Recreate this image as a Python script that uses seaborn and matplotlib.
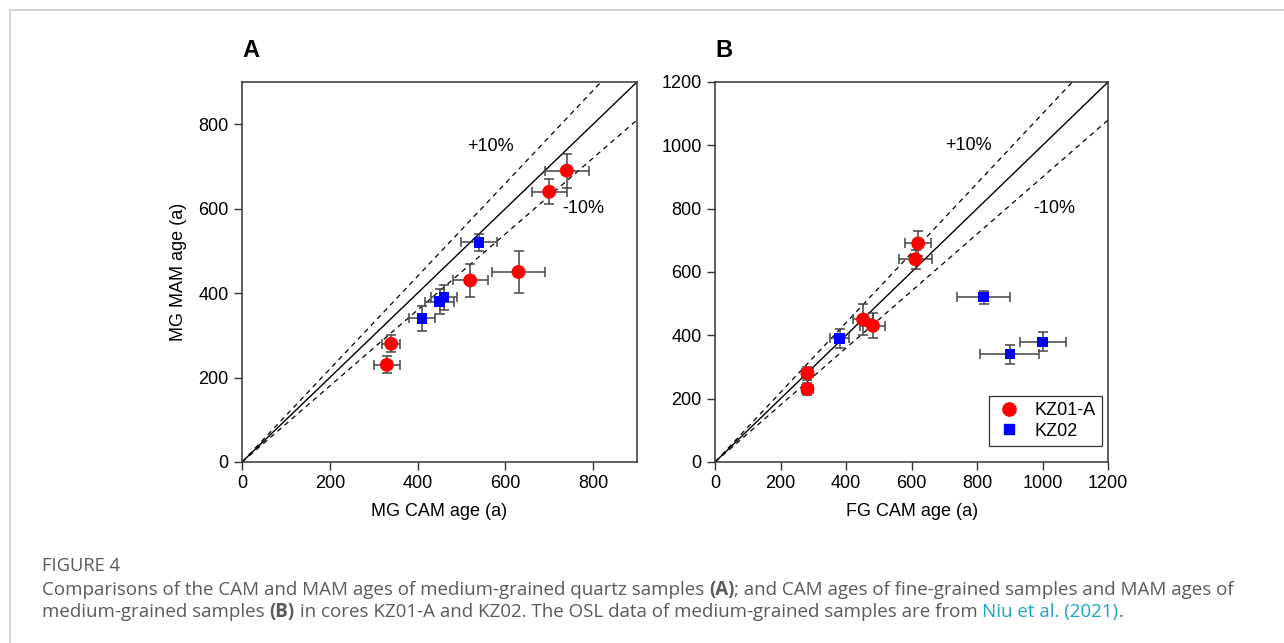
import matplotlib
matplotlib.use("Agg")
import matplotlib.pyplot as plt
import seaborn as sns
import numpy as np
import pandas as pd
from matplotlib.lines import Line2D

# panel A: MG CAM vs MG MAM
a_kz01_x = [740, 700, 630, 520, 340, 330]
a_kz01_xerr = [50, 40, 60, 40, 20, 30]
a_kz01_y = [690, 640, 450, 430, 280, 230]
a_kz01_yerr = [40, 30, 50, 40, 20, 20]
a_kz02_x = [540, 460, 450, 410]
a_kz02_xerr = [40, 30, 32, 30]
a_kz02_y = [520, 390, 380, 340]
a_kz02_yerr = [20, 30, 30, 30]

# panel B: FG CAM vs MG MAM
b_kz01_x = [620, 612, 452, 482, 282, 282]
b_kz01_xerr = [40, 50, 30, 38, 16, 16]
b_kz01_y = [690, 640, 450, 430, 280, 230]
b_kz01_yerr = [40, 30, 50, 40, 20, 18]
b_kz02_x = [380, 820, 900, 1000]
b_kz02_xerr = [30, 80, 90, 70]
b_kz02_y = [390, 520, 340, 380]
b_kz02_yerr = [30, 20, 30, 30]

sns.set_style("ticks")
plt.rcParams['font.family'] = ['Liberation Sans', 'DejaVu Sans']
plt.rcParams['text.color'] = 'black'
plt.rcParams['axes.labelcolor'] = 'black'
plt.rcParams['xtick.color'] = 'black'
plt.rcParams['ytick.color'] = 'black'

fig = plt.figure(figsize=(12.84, 6.43), dpi=100)
axA = fig.add_axes([0.1885, 0.2815, 0.3076, 0.591])
axB = fig.add_axes([0.5569, 0.2815, 0.3061, 0.591])

fs = 13


def make_df(x, y, name):
    return pd.DataFrame({'cam': x, 'mam': y, 'core': name})


def draw_panel(ax, k1x, k1xe, k1y, k1ye, k2x, k2xe, k2y, k2ye, lim):
    for x, xe, y, ye in [(k1x, k1xe, k1y, k1ye), (k2x, k2xe, k2y, k2ye)]:
        ax.errorbar(x, y, xerr=xe, yerr=ye, fmt='none', ecolor='#444444',
                    elinewidth=1.1, capsize=3.5, capthick=1.1, zorder=2)
    df = pd.concat([make_df(k1x, k1y, 'KZ01-A'), make_df(k2x, k2y, 'KZ02')])
    sns.scatterplot(data=df, x='cam', y='mam', hue='core', style='core', size='core',
                    palette={'KZ01-A': '#ff0000', 'KZ02': '#0000ff'},
                    markers={'KZ01-A': 'o', 'KZ02': 's'},
                    sizes={'KZ01-A': 100, 'KZ02': 55},
                    linewidth=0, ax=ax, zorder=3, legend=False)
    xx = np.array([0, lim])
    ax.plot(xx, xx, color='black', lw=1, zorder=1)
    ax.plot(xx, 1.1 * xx, color='black', lw=0.9, ls=(0, (4, 3.5)), zorder=1)
    ax.plot(xx, 0.9 * xx, color='black', lw=0.9, ls=(0, (4, 3.5)), zorder=1)
    ax.set_xlim(0, lim)
    ax.set_ylim(0, lim)
    for s in ax.spines.values():
        s.set_linewidth(1.1)
        s.set_color('#333333')
    ax.tick_params(labelsize=fs, length=6, width=1, color='#333333', direction='out')


draw_panel(axA, a_kz01_x, a_kz01_xerr, a_kz01_y, a_kz01_yerr,
           a_kz02_x, a_kz02_xerr, a_kz02_y, a_kz02_yerr, 900)
axA.set_xticks([0, 200, 400, 600, 800])
axA.set_yticks([0, 200, 400, 600, 800])
axA.set_xlabel('MG CAM age (a)', fontsize=fs, labelpad=8)
axA.set_ylabel('MG MAM age (a)', fontsize=fs, labelpad=8)
axA.text(565, 748, '+10%', fontsize=fs, ha='center', va='center')
axA.text(777, 601, '-10%', fontsize=fs, ha='center', va='center')
axA.text(0.0, 1.053, 'A', transform=axA.transAxes, fontsize=17, fontweight='bold',
         ha='left', va='bottom')

draw_panel(axB, b_kz01_x, b_kz01_xerr, b_kz01_y, b_kz01_yerr,
           b_kz02_x, b_kz02_xerr, b_kz02_y, b_kz02_yerr, 1200)
axB.set_xticks([0, 200, 400, 600, 800, 1000, 1200])
axB.set_yticks([0, 200, 400, 600, 800, 1000, 1200])
axB.set_xlabel('FG CAM age (a)', fontsize=fs, labelpad=8)
axB.set_ylabel('')
axB.text(773, 998, '+10%', fontsize=fs, ha='center', va='center')
axB.text(1037, 802, '-10%', fontsize=fs, ha='center', va='center')
axB.text(0.0, 1.053, 'B', transform=axB.transAxes, fontsize=17, fontweight='bold',
         ha='left', va='bottom')

handles = [Line2D([], [], ls='none', marker='o', color='#ff0000', markersize=9.5),
           Line2D([], [], ls='none', marker='s', color='#0000ff', markersize=7)]
leg = axB.legend(handles, ['KZ01-A', 'KZ02'], loc='lower right',
                 bbox_to_anchor=(0.985, 0.042), borderaxespad=0, fontsize=fs,
                 frameon=True, fancybox=False, edgecolor='#333333', framealpha=1,
                 handletextpad=0.6, borderpad=0.35, labelspacing=0.2,
                 handlelength=1.6)
leg.get_frame().set_linewidth(0.9)

# page frame lines
fig.add_artist(Line2D([10 / 1284, 1], [1 - 10 / 643, 1 - 10 / 643],
                      color='#d0d0d0', lw=1.2, transform=fig.transFigure))
fig.add_artist(Line2D([10 / 1284, 10 / 1284], [0, 1 - 10 / 643],
                      color='#d0d0d0', lw=1.2, transform=fig.transFigure))

# caption
cap_font = ['Open Sans', 'DejaVu Sans']
grey = '#5a5a5a'
fig.text(42 / 1284, 1 - 566 / 643, 'FIGURE 4', fontsize=13.2, color=grey,
         family=cap_font, va='center', ha='left')

renderer = fig.canvas.get_renderer()


def text_run(y_px, parts):
    x = 42
    for txt, weight, col in parts:
        t = fig.text(x / 1284, 1 - y_px / 643, txt, fontsize=13.5, color=col,
                     fontweight=weight, family=cap_font, va='center', ha='left')
        bb = t.get_window_extent(renderer=renderer)
        x = bb.x1


text_run(590, [('Comparisons of the CAM and MAM ages of medium-grained quartz samples ', 'normal', grey),
               ('(A)', 'bold', grey),
               ('; and CAM ages of fine-grained samples and MAM ages of', 'normal', grey)])
text_run(612, [('medium-grained samples ', 'normal', grey),
               ('(B)', 'bold', grey),
               (' in cores KZ01-A and KZ02. The OSL data of medium-grained samples are from ', 'normal', grey),
               ('Niu et al. (2021)', 'normal', '#1aa6c0'),
               ('.', 'normal', grey)])

fig.savefig('out.png', dpi=100)
